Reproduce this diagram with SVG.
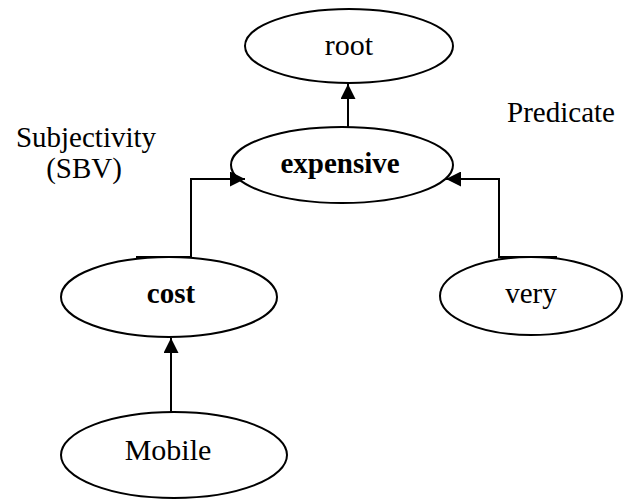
<svg xmlns="http://www.w3.org/2000/svg" width="628" height="499" viewBox="0 0 628 499">
<defs>
<marker id="ah" viewBox="0 0 10 10" refX="10" refY="5" markerWidth="17" markerHeight="15" markerUnits="userSpaceOnUse" orient="auto">
<path d="M0,0 L10,5 L0,10 z" fill="#000"/>
</marker>
<style>
.n{fill:#fff;stroke:#000;stroke-width:2}
.t{font-family:"Liberation Serif","Times New Roman",serif;font-size:29px;fill:#000;text-anchor:middle}
.b{font-weight:bold}
.c{fill:none;stroke:#000;stroke-width:2}
</style>
</defs>
<rect width="628" height="499" fill="#fff"/>
<g id="root"><ellipse class="n" cx="349" cy="46" rx="104" ry="37"/><text class="t" x="349" y="55" style="font-size:30px">root</text></g>
<g id="expensive"><ellipse class="n" cx="342" cy="165" rx="111" ry="38"/><text class="t b" x="340" y="173">expensive</text></g>
<g id="cost"><ellipse class="n" cx="169" cy="297" rx="108" ry="40"/><text class="t b" x="171" y="303">cost</text></g>
<g id="very"><ellipse class="n" cx="531" cy="296" rx="91" ry="39"/><text class="t" x="531" y="303">very</text></g>
<g id="mobile"><ellipse class="n" cx="174" cy="455" rx="113" ry="43"/><text class="t" x="168" y="460" style="font-size:30px">Mobile</text></g>
<g id="connectors">
<path class="c" d="M348,127 V84" marker-end="url(#ah)"/>
<path class="c" d="M171,412 V338" marker-end="url(#ah)"/>
<path class="c" d="M136,257 H191 V179 H245" marker-end="url(#ah)"/>
<path class="c" d="M557,257 H499 V179 H446" marker-end="url(#ah)"/>
</g>
<g id="labels">
<text class="t" x="86" y="147">Subjectivity</text>
<text class="t" x="84" y="178">(SBV)</text>
<text class="t" x="561" y="122">Predicate</text>
</g>
</svg>
